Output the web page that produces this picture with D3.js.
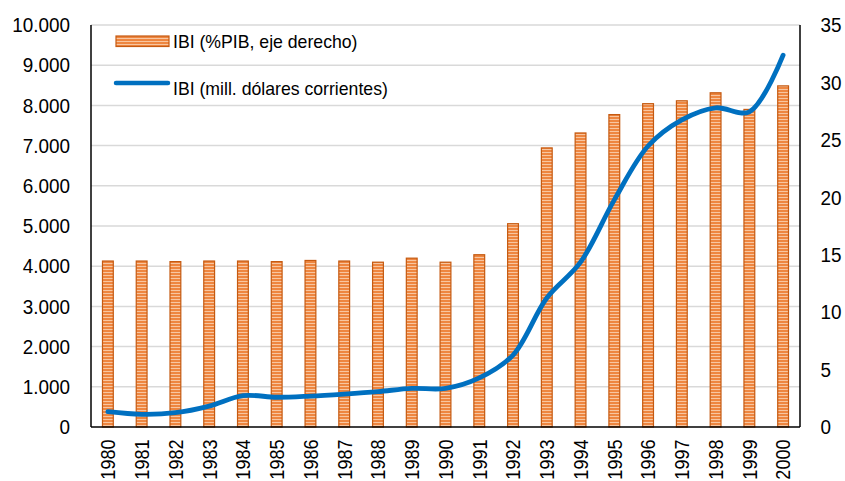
<!DOCTYPE html>
<html><head><meta charset="utf-8">
<script src="https://cdn.jsdelivr.net/npm/d3@7"></script>
<style>body{margin:0;background:#fff}svg{display:block}text{font-family:"Liberation Sans",Arial,sans-serif;fill:#000}</style>
</head><body><svg id="c" width="845" height="481"></svg>
<script>
const years = ["1980","1981","1982","1983","1984","1985","1986","1987","1988","1989","1990","1991","1992","1993","1994","1995","1996","1997","1998","1999","2000"];
const ibiPctPib = [14.45,14.45,14.4,14.45,14.45,14.4,14.5,14.45,14.35,14.7,14.35,15.0,17.7,24.3,25.6,27.2,28.15,28.4,29.1,27.65,29.7];
const ibiMillUsd = [380,315,355,520,780,740,770,820,880,960,960,1220,1790,3210,4100,5650,6990,7640,7940,7840,9250];
const leftTicks = [0,1000,2000,3000,4000,5000,6000,7000,8000,9000,10000];
const leftTickLabels = ["0","1.000","2.000","3.000","4.000","5.000","6.000","7.000","8.000","9.000","10.000"];
const rightTicks = [0,5,10,15,20,25,30,35];
const legendLabels = ["IBI (%PIB, eje derecho)","IBI (mill. dólares corrientes)"];

const svg = d3.select("#c");
const L=91, R=800, T=25, B=427;
const SX = 0.9, FS = 21, SY = 0.86;
const x = d3.scaleBand().domain(years).range([L,R]).paddingInner(0.68).paddingOuter(0.34);
const yL = d3.scaleLinear().domain([0,10000]).range([B,T]);
const yR = d3.scaleLinear().domain([0,35]).range([B,T]);

const defs = svg.append("defs");
const pat = defs.append("pattern").attr("id","stripes").attr("patternUnits","userSpaceOnUse").attr("width",6).attr("height",3);
pat.append("rect").attr("width",6).attr("height",3).attr("fill","#EE8640");
pat.append("rect").attr("y",2).attr("width",6).attr("height",1).attr("fill","#F8C6A0");

// gridlines
svg.append("g").selectAll("line").data(leftTicks.slice(1)).join("line")
  .attr("x1",L).attr("x2",R).attr("y1",d=>yL(d)).attr("y2",d=>yL(d))
  .attr("stroke","#D9D9D9").attr("stroke-width",1.5);

// bars
svg.append("g").selectAll("rect").data(years).join("rect")
  .attr("x",d=>x(d)).attr("width",x.bandwidth())
  .attr("y",(d,i)=>yR(ibiPctPib[i])).attr("height",(d,i)=>B-yR(ibiPctPib[i]))
  .attr("fill","url(#stripes)").attr("stroke","#C55A11").attr("stroke-width",1.2);

// line
const line = d3.line().x((d,i)=>x(years[i])+x.bandwidth()/2).y(d=>yL(d)).curve(d3.curveCatmullRom.alpha(0.5));
svg.append("path").datum(ibiMillUsd).attr("d",line).attr("fill","none")
  .attr("stroke","#0070C0").attr("stroke-width",4.8).attr("stroke-linecap","round");

// axes lines
svg.append("line").attr("x1",L).attr("x2",L).attr("y1",T).attr("y2",B).attr("stroke","#000").attr("stroke-width",1.5);
svg.append("line").attr("x1",R).attr("x2",R).attr("y1",T).attr("y2",B).attr("stroke","#000").attr("stroke-width",1.5);
svg.append("line").attr("x1",L).attr("x2",R).attr("y1",B).attr("y2",B).attr("stroke","#000").attr("stroke-width",1.5);

// left tick labels
const axL = d3.axisLeft(yL).tickValues(leftTicks).tickFormat((d,i)=>leftTickLabels[i]).tickSize(0);
const gL = svg.append("g").attr("transform",`translate(${L},0)`).call(axL);
gL.select(".domain").remove();
gL.selectAll("text").attr("font-size",FS).attr("font-family","Liberation Sans, Arial, sans-serif").attr("fill","#000")
  .attr("x",-21/SX).attr("transform",`scale(${SX},1)`);

const axR = d3.axisRight(yR).tickValues(rightTicks).tickSize(0);
const gR = svg.append("g").attr("transform",`translate(${R},0)`).call(axR);
gR.select(".domain").remove();
gR.selectAll("text").attr("font-size",FS).attr("font-family","Liberation Sans, Arial, sans-serif").attr("fill","#000")
  .attr("x",20.5/SX).attr("transform",`scale(${SX},1)`);

// x labels
const axB = d3.axisBottom(x).tickSize(0).tickPadding(0);
const gB = svg.append("g").attr("transform",`translate(0,${B})`).call(axB);
gB.select(".domain").remove();
gB.selectAll("text").attr("font-size",FS).attr("font-family","Liberation Sans, Arial, sans-serif").attr("fill","#000")
  .attr("text-anchor","end").attr("transform",`rotate(-90) scale(${SY},1)`).attr("x",-12.5/SY).attr("y",0).attr("dy","0.35em");

// legend
const lg = svg.append("g");
lg.append("rect").attr("x",116).attr("y",36).attr("width",53).attr("height",10.5)
  .attr("fill","url(#stripes)").attr("stroke","#C55A11").attr("stroke-width",1.2);
lg.append("line").attr("x1",116).attr("x2",168).attr("y1",83).attr("y2",83)
  .attr("stroke","#0070C0").attr("stroke-width",4.5).attr("stroke-linecap","round");
lg.selectAll("text").data(legendLabels).join("text")
  .attr("x",173/0.95).attr("y",(d,i)=>i===0?48.5:95).attr("font-size",18.6)
  .attr("transform","scale(0.95,1)").text(d=>d);
</script></body></html>
